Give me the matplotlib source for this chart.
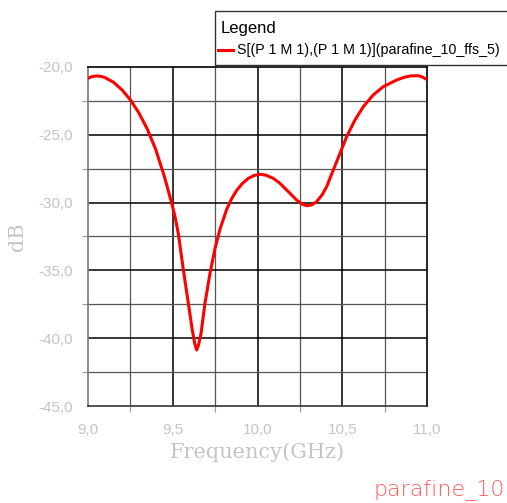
import matplotlib
matplotlib.use("Agg")
import matplotlib.pyplot as plt
from matplotlib.patches import Rectangle
from matplotlib.ticker import FixedLocator, FuncFormatter

# S11 (GHz, dB)
freq_ghz = [9.000, 9.025, 9.051, 9.080, 9.100, 9.150, 9.200, 9.250, 9.300, 9.350,
            9.400, 9.450, 9.494, 9.513, 9.533, 9.562, 9.592, 9.615, 9.630, 9.641,
            9.652, 9.667, 9.690, 9.720, 9.749, 9.779, 9.818, 9.848, 9.877, 9.910,
            9.946, 9.980, 10.015, 10.050, 10.093, 10.130, 10.172, 10.231, 10.265, 10.290,
            10.320, 10.349, 10.380, 10.408, 10.447, 10.487, 10.526, 10.575, 10.624, 10.683,
            10.742, 10.821, 10.860, 10.900, 10.949, 10.975, 10.998]
s11_db = [-20.83, -20.70, -20.66, -20.70, -20.78, -21.12, -21.68, -22.42, -23.38, -24.58,
          -26.10, -28.05, -30.05, -31.00, -32.30, -34.90, -37.43, -39.39, -40.40, -40.87,
          -40.50, -39.64, -37.43, -35.20, -33.40, -31.95, -30.50, -29.70, -29.10, -28.60,
          -28.21, -28.00, -27.91, -27.98, -28.21, -28.55, -29.07, -29.81, -30.12, -30.23,
          -30.17, -29.93, -29.45, -28.83, -27.60, -26.36, -25.14, -23.91, -22.93, -22.06,
          -21.45, -20.96, -20.78, -20.66, -20.64, -20.75, -20.91]

x_major = [9.0, 9.5, 10.0, 10.5, 11.0]
x_minor = [9.25, 9.75, 10.25, 10.75]
y_major = [-45.0, -40.0, -35.0, -30.0, -25.0, -20.0]
y_minor = [-42.5, -37.5, -32.5, -27.5, -22.5]

legend_label = "S[(P 1 M 1),(P 1 M 1)](parafine_10_ffs_5)"
tag = "parafine_10"

W, H = 507, 503
fig = plt.figure(figsize=(W / 100, H / 100), dpi=100)
ax = fig.add_axes([88 / W, 1 - 406 / H, (427 - 88) / W, (406 - 67) / H])

gray = "#c4c4c4"
for v in x_major[1:-1]:
    ax.axvline(v, color="black", lw=1.1, zorder=1)
for v in x_minor:
    ax.axvline(v, color="#555555", lw=0.9, zorder=1)
for v in y_major[1:-1]:
    ax.axhline(v, color="black", lw=1.1, zorder=1)
for v in y_minor:
    ax.axhline(v, color="#555555", lw=0.9, zorder=1)

ax.plot(freq_ghz, s11_db, color="#ff0000", lw=2.2, zorder=3,
        solid_joinstyle="round", solid_capstyle="round")

ax.set_xlim(9.0, 11.0)
ax.set_ylim(-45.0, -20.0)
ax.xaxis.set_major_locator(FixedLocator(x_major))
ax.yaxis.set_major_locator(FixedLocator(y_major))
ax.xaxis.set_minor_locator(FixedLocator(x_minor))
ax.yaxis.set_minor_locator(FixedLocator(y_minor))
comma = FuncFormatter(lambda v, p: f"{v:.1f}".replace(".", ","))
ax.xaxis.set_major_formatter(comma)
ax.yaxis.set_major_formatter(comma)
for lab in ax.get_xticklabels() + ax.get_yticklabels():
    lab.set_family("Liberation Sans")
ax.tick_params(which="major", length=0, labelsize=11, labelcolor=gray)
ax.tick_params(axis="y", which="major", pad=11)
ax.tick_params(axis="x", which="major", pad=12)
ax.tick_params(which="minor", length=4, color="#999999", width=0.8)

for side in ["top", "right"]:
    ax.spines[side].set_color("black")
ax.spines["left"].set_color("#777777")
ax.spines["bottom"].set_color("#333333")
for s in ax.spines.values():
    s.set_linewidth(1.2)

ax.set_xlabel("Frequency(GHz)", family="DejaVu Serif", fontsize=15, color=gray, labelpad=4)
ax.set_ylabel("dB", family="DejaVu Serif", fontsize=15, color=gray, labelpad=8)

# legend box, cut off at the right edge like the reference
fig.patches.append(Rectangle((215 / W, 1 - 65 / H), 300 / W, 54 / H,
                             transform=fig.transFigure, facecolor="white",
                             edgecolor="#333333", lw=1.0, clip_on=False))
fig.text(221 / W, 1 - 28 / H, "Legend", family="Liberation Sans", fontsize=12,
         va="center", ha="left")
fig.lines.append(plt.Line2D([218 / W, 233 / W], [1 - 50 / H, 1 - 50 / H],
                            transform=fig.transFigure, color="#ff0000", lw=2.2))
fig.text(237 / W, 1 - 50 / H, legend_label, family="Liberation Sans", fontsize=10.3,
         va="center", ha="left")

fig.text(505 / W, 1 - 490 / H, tag, family="DejaVu Sans", fontsize=16,
         color="#ff5a5a", ha="right", va="center", fontweight="light")

fig.savefig("out.png", dpi=100)
